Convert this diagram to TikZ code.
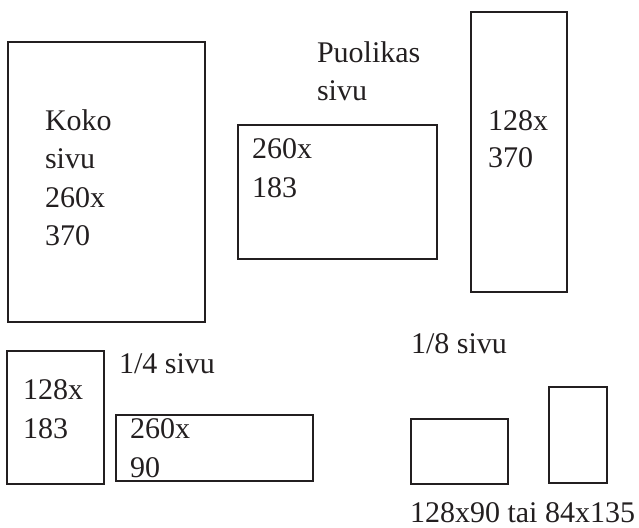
\documentclass[tikz,border=0pt]{standalone}
\usepackage{fontspec}
\setmainfont{Liberation Serif}
\definecolor{ink}{HTML}{231F20}
\begin{document}
\begin{tikzpicture}[x=1pt,y=-1pt,
  box/.style={draw=ink, line width=2.2pt, rectangle, inner sep=0pt, outer sep=0pt, anchor=north west},
  lbl/.style={anchor=base west, inner sep=0pt, outer sep=0pt, text=ink, font=\fontsize{30}{36}\selectfont}]
\useasboundingbox (0,0) rectangle (639,527);
% boxes
\node[box, minimum width=197pt, minimum height=280pt] (full) at (8,42) {};
\node[box, minimum width=199pt, minimum height=134pt] (half1) at (238,125) {};
\node[box, minimum width=96pt, minimum height=280pt] (half2) at (471,12) {};
\node[box, minimum width=97pt, minimum height=133pt] (q1) at (7,351) {};
\node[box, minimum width=197pt, minimum height=66pt] (q2) at (116,415) {};
\node[box, minimum width=97pt, minimum height=65pt] (e1) at (411,419) {};
\node[box, minimum width=58pt, minimum height=96pt] (e2) at (549,387) {};
% texts
\node[lbl] (t1) at (45,130) {Koko};
\node[lbl] (t2) at (45,168) {sivu};
\node[lbl] (t3) at (45,207) {260x};
\node[lbl] (t4) at (45,245) {370};
\node[lbl] (t5) at (317,63) {Puolikas};
\node[lbl] (t6) at (317,100) {sivu};
\node[lbl] (t7) at (252,158) {260x};
\node[lbl] (t8) at (252,197) {183};
\node[lbl] (t9) at (488,130) {128x};
\node[lbl] (t10) at (488,167) {370};
\node[lbl] (t11) at (23,399) {128x};
\node[lbl] (t12) at (23,438) {183};
\node[lbl] (t13) at (119,373) {1/4 sivu};
\node[lbl] (t14) at (130,438) {260x};
\node[lbl] (t15) at (130,477) {90};
\node[lbl] (t16) at (411,353) {1/8 sivu};
\node[lbl] (t17) at (410,522) {128x90 tai 84x135};
\end{tikzpicture}
\end{document}
